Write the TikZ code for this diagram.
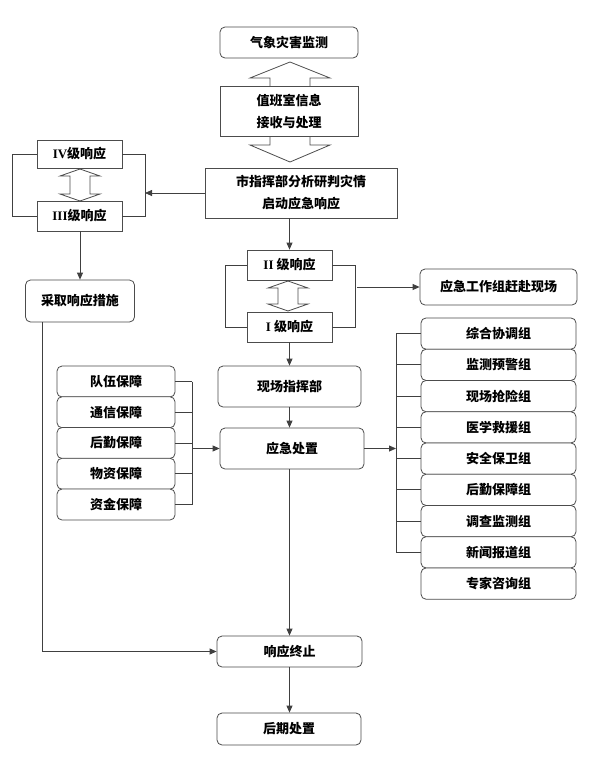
\documentclass[tikz,border=0pt]{standalone}
\usepackage{fontspec}
\newfontfamily\cjk{Noto Sans CJK SC}
\newfontfamily\lserif{Liberation Serif}
\usetikzlibrary{arrows.meta}
\newcommand\rnum[1]{{\lserif\bfseries #1}}
\begin{document}
\begin{tikzpicture}[x=1pt,y=-1pt,
  lin/.style={draw=black!75, line width=0.8pt},
  arr/.style={lin, -{Triangle[length=7pt,width=6pt]}},
  box/.style={draw=black!70, fill=white, line width=0.8pt, inner sep=0pt,
    font=\cjk\bfseries\fontsize{13}{22}\selectfont, align=center},
  rbox/.style={box, rounded corners=5pt},
  blk/.style={draw=black!70, fill=white, line width=0.8pt, line join=miter}]
\useasboundingbox (0,0) rectangle (591,761);
\fill[white] (0,0) rectangle (591,761);

% top part
\node[rbox, minimum width=138pt, minimum height=31pt] (jc) at (289,42.5) {气象灾害监测};
\draw[blk] (270,86) -- (270,78) -- (250,78) -- (290,62) -- (330,78) -- (310,78) -- (310,86);
\draw[blk] (270,136) -- (270,145) -- (250,145) -- (290,162) -- (330,145) -- (310,145) -- (310,136);
\node[box, minimum width=138pt, minimum height=50pt] (zb) at (289,111) {值班室信息\\接收与处理};
\node[box, minimum width=192pt, minimum height=50pt] (sz) at (301,193) {市指挥部分析研判灾情\\启动应急响应};

% left levels
\node[box, minimum width=85pt, minimum height=28pt] (iv) at (79.5,154) {\rnum{IV}级响应};
\node[box, minimum width=85pt, minimum height=30pt] (iii) at (79.5,216) {\rnum{III}级响应};
\draw[blk] (80,169) -- (100,176) -- (90,176) -- (90,194) -- (100,194) -- (80,201)
  -- (60,194) -- (70,194) -- (70,176) -- (60,176) -- cycle;
\draw[lin] (iv.east) -- (145,154) -- (145,216) -- (iii.east);
\draw[lin] (iv.west) -- (12,154) -- (12,216) -- (iii.west);
\coordinate (lb) at (145,193);
\draw[arr] (sz.west) -- (lb);
\node[rbox, minimum width=109pt, minimum height=42pt] (cq) at (80,301) {采取响应措施};
\draw[arr] (iii.south -| cq.north) -- (cq.north);

% right levels
\node[box, minimum width=85pt, minimum height=30pt] (ii) at (289.5,265) {\rnum{II} 级响应};
\node[box, minimum width=85pt, minimum height=30pt] (i) at (289.5,327) {\rnum{I} 级响应};
\draw[blk] (288,281) -- (308,288) -- (298,288) -- (298,304) -- (308,304) -- (288,311)
  -- (268,304) -- (278,304) -- (278,288) -- (268,288) -- cycle;
\draw[lin] (ii.east) -- (355,265) -- (355,327) -- (i.east);
\draw[lin] (ii.west) -- (225,265) -- (225,327) -- (i.west);
\draw[arr] (sz.south -| ii.north) -- (ii.north);
\node[rbox, minimum width=157pt, minimum height=36pt] (gz) at (498.5,287) {应急工作组赶赴现场};
\coordinate (rb) at (357,287);
\draw[arr] (rb) -- (gz.west);

% middle
\node[rbox, minimum width=143pt, minimum height=41pt] (xc) at (289.5,386.5) {现场指挥部};
\node[rbox, minimum width=144pt, minimum height=41pt] (cz) at (292,448.5) {应急处置};
\draw[arr] (i.south) -- (i.south |- xc.north);
\draw[arr] (xc.south) -- (xc.south |- cz.north);

% left supports
\foreach \t [count=\k] in {队伍保障,通信保障,后勤保障,物资保障,资金保障}{
  \node[rbox, minimum width=118pt, minimum height=31pt] (s\k) at (116,{381.5+(\k-1)*30.75}) {\t};
}
\foreach \k in {1,...,5}{ \draw[lin] (s\k.east) -- (s\k.east -| 192,0); }
\coordinate (sb1) at (192,381.5);
\coordinate (sb5) at (192,504.5);
\draw[lin] (sb1) -- (sb5);
\coordinate (sm) at (192,448.5);
\draw[arr] (sm) -- (cz.west);

% right groups
\foreach \t [count=\k] in {综合协调组,监测预警组,现场抢险组,医学救援组,安全保卫组,后勤保障组,调查监测组,新闻报道组,专家咨询组}{
  \node[rbox, minimum width=155pt, minimum height=31.25pt] (g\k) at (498.5,{333.6+(\k-1)*31.25}) {\t};
}
\foreach \k in {1,...,8}{ \draw[lin] (g\k.west) -- (g\k.west -| 396,0); }
\coordinate (gb1) at (396,333.6);
\coordinate (gb8) at (396,552.4);
\draw[lin] (gb1) -- (gb8);
\coordinate (gm) at (396,448.5);
\draw[arr] (cz.east) -- (gm);

% bottom
\node[rbox, minimum width=145pt, minimum height=31pt] (zz) at (289.5,651.5) {响应终止};
\node[rbox, minimum width=144pt, minimum height=32pt] (hq) at (289,729) {后期处置};
\draw[arr] (cz.south -| zz.north) -- (zz.north);
\draw[arr] (zz.south) -- (zz.south |- hq.north);
\coordinate (cqd) at (42,651.5);
\draw[arr] (cq.south -| cqd) -- (cqd) -- (zz.west);
\end{tikzpicture}
\end{document}
